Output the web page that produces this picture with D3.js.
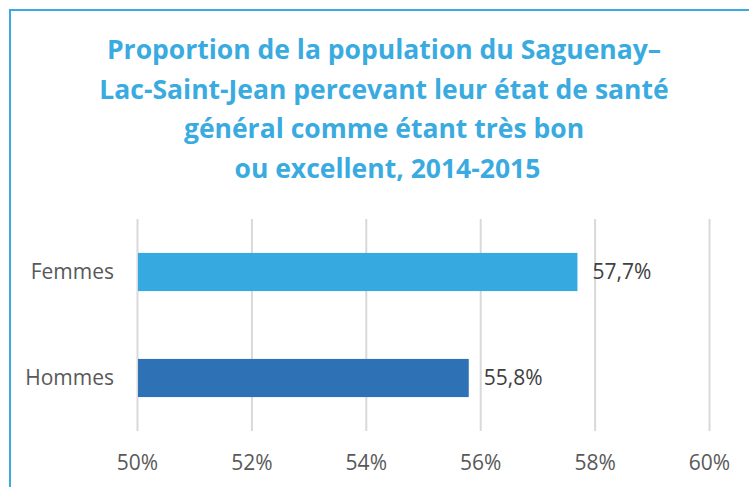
<!DOCTYPE html>
<html>
<head>
<meta charset="utf-8">
<script src="https://cdn.jsdelivr.net/npm/d3@7"></script>
<style>
  html, body { margin: 0; padding: 0; background: #fff; }
  svg { display: block; }
</style>
</head>
<body>
<div id="chart"></div>
<script>
// data
const categories = ["Femmes", "Hommes"];
const values = [0.577, 0.558];
const valueLabels = ["57,7%", "55,8%"];
const tickValues = [0.50, 0.52, 0.54, 0.56, 0.58, 0.60];
const tickLabels = ["50%", "52%", "54%", "56%", "58%", "60%"];
const titleLines = [
    "Proportion de la population du Saguenay–",
    "Lac-Saint-Jean percevant leur état de santé",
    "général comme étant très bon",
    " ou excellent, 2014-2015"
];
const barColors = ["#36a9e0", "#2e72b5"];

const width = 749, height = 487;
const svg = d3.select("#chart").append("svg")
    .attr("width", width)
    .attr("height", height);

// frame (cut off at right / bottom like the screenshot)
svg.append("rect")
    .attr("x", 10).attr("y", 10)
    .attr("width", width + 20).attr("height", height + 20)
    .attr("fill", "none")
    .attr("stroke", "#3aabe0")
    .attr("stroke-width", 2);

// title
const title = svg.append("text")
    .attr("text-anchor", "middle")
    .attr("fill", "#3aabe0")
    .style("font-family", "'Open Sans', sans-serif")
    .style("font-weight", 700)
    .style("font-size", "26.5px");
title.selectAll("tspan")
    .data(titleLines)
    .join("tspan")
    .attr("x", 384)
    .attr("y", (d, i) => 59 + i * 39.5)
    .attr("xml:space", "preserve")
    .text(d => d);

// scales
const x = d3.scaleLinear().domain([0.5, 0.6]).range([137, 709]);
const y = d3.scaleBand().domain(categories).range([219, 431])
    .paddingInner(0.64).paddingOuter(0.32);

// grid
const grid = svg.append("g")
    .attr("transform", "translate(0,219)")
    .call(d3.axisBottom(x).tickValues(tickValues).tickSize(212).tickFormat(""));
grid.select(".domain").remove();
grid.selectAll("line").attr("stroke", "#d9d9d9").attr("stroke-width", 2);

// x labels
const xAxis = svg.append("g")
    .attr("transform", "translate(0,431)")
    .call(d3.axisBottom(x).tickValues(tickValues).tickSize(0)
        .tickFormat((d, i) => tickLabels[i]));
xAxis.select(".domain").remove();
xAxis.selectAll("text")
    .attr("y", 39).attr("dy", 0)
    .attr("fill", "#595959")
    .style("font-family", "'Open Sans', sans-serif")
    .style("font-size", "21px");

// y labels
const yAxis = svg.append("g")
    .attr("transform", "translate(137,0)")
    .call(d3.axisLeft(y).tickSize(0).tickPadding(23));
yAxis.select(".domain").remove();
yAxis.selectAll("text")
    .attr("fill", "#595959")
    .style("font-family", "'Open Sans', sans-serif")
    .style("font-size", "21px");

// bars
svg.append("g").selectAll("rect")
    .data(categories)
    .join("rect")
    .attr("x", x(0.5) + 1)
    .attr("y", d => y(d))
    .attr("height", y.bandwidth())
    .attr("width", (d, i) => x(values[i]) - x(0.5) - 1)
    .attr("fill", (d, i) => barColors[i]);

// value labels
svg.append("g").selectAll("text")
    .data(categories)
    .join("text")
    .attr("x", (d, i) => x(values[i]) + 15)
    .attr("y", d => y(d) + y.bandwidth() / 2)
    .attr("dy", "0.35em")
    .attr("fill", "#404040")
    .style("font-family", "'Open Sans', sans-serif")
    .style("font-size", "21px")
    .text((d, i) => valueLabels[i]);
</script>
</body>
</html>
